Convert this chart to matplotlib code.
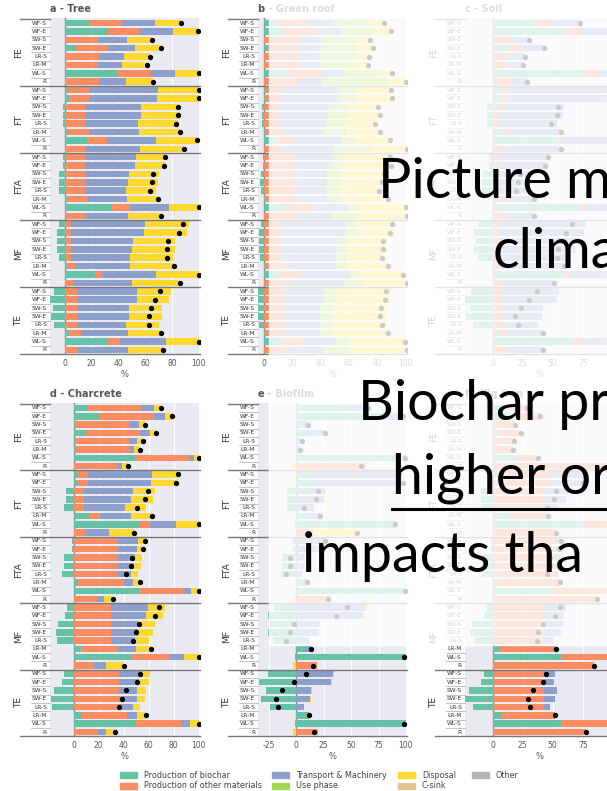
import matplotlib
matplotlib.use("Agg")
import matplotlib.pyplot as plt
import numpy as np
from matplotlib.patches import Rectangle

W, H = 607, 791

groups = ["FE", "FT", "FTA", "MF", "TE"]
rows = ["WF-S", "WF-E", "SW-S", "SW-E", "LR-S", "LR-M", "WL-S", "R"]

categories = ["Production of biochar", "Production of other materials",
              "Transport & Machinery", "Use phase", "Disposal", "C-sink", "Other"]
colors = ["#66c2a5", "#fc8d62", "#8da0cb", "#a6d854", "#ffd92f", "#e5c494", "#b3b3b3"]

# ---- a - Tree
tree_biochar = [18.5, 31.5, 1.2, 7.8, 0.5, 0, 40, 0,
                2.8, 3, -1.5, -1.5, -1.5, 2.8, 16.8, 0,
                -1, -1.5, -4.5, -4.5, -4, 2, 34.5, 0,
                -4.5, -6, -5.5, -6, -4.5, 1.8, 22.8, 0,
                -8, -11, -8.5, -10, -7.8, 3.5, 32.3, 0]
tree_materials = [24, 24, 24, 24, 25, 25, 24.5, 25.5,
                  15.3, 15, 15.5, 15.5, 15.5, 15.5, 15, 15.5,
                  15, 15, 15, 15, 15, 15.3, 14, 15.5,
                  5, 5, 5, 5, 5, 5.5, 4.8, 6.3,
                  9.3, 9.3, 9.3, 9.3, 9.3, 8.8, 8.8, 10]
tree_transport = [25, 25, 21, 21, 19, 18, 17.5, 20,
                  51.8, 51, 41.3, 41.3, 39.3, 37, 36.5, 40.5,
                  38.5, 37.5, 32.8, 32.3, 30.5, 29, 29.3, 31.5,
                  55, 54, 46, 45, 43.5, 41.3, 40.3, 43.8,
                  45, 44.3, 38.8, 38.8, 36.3, 34.8, 34.5, 37]
tree_disposal = [19, 18.8, 19, 19, 19, 18.5, 18.5, 20.5,
                 30.5, 31, 29.5, 29.3, 30, 30.8, 30.3, 33,
                 22.5, 22.8, 22.5, 22.3, 22.5, 23.3, 22.5, 25,
                 32.5, 32.5, 31.5, 32.5, 32, 33, 32.5, 36,
                 24.8, 24.5, 24.5, 24.5, 25, 25, 24.8, 26.5]

# ---- b - Green roof
roof_biochar = [8, 13.5, 0.5, 2.4, 0, 0, 17.3, 0,
                1, 1, -1, -1, -1, 1.7, 9.5, 0,
                -0.5, -0.5, -2, -2.4, -2, 1, 15.4, 0,
                -2, -3, -3, -3, -2.6, 1, 11.8, 0,
                -4, -4.5, -4, -4.5, -3, 1, 13.5, 0]
roof_materials = [24, 24, 24, 23, 24.6, 24.6, 24, 24.6,
                  12, 12, 11.8, 11.8, 11.8, 11.4, 11.8, 12.3,
                  22.5, 22.5, 22.5, 22.5, 22.5, 22.5, 21.8, 24.2,
                  13, 13, 13, 13, 13, 13.7, 14.2, 14.7,
                  14.7, 14.7, 14.7, 14.7, 14.7, 15, 14.2, 15.9]
roof_transport = [17.8, 17.3, 15.6, 15, 14.5, 15, 14.5, 16.8,
                  40, 40, 34, 33.6, 31.3, 28.9, 33.2, 37.4,
                  25.4, 25.4, 22.3, 22.3, 20.6, 21.3, 21.3, 23.7,
                  45, 44.3, 39, 38.9, 37.9, 36.3, 34.8, 41,
                  27.7, 27.7, 24.9, 24.9, 24.4, 23.7, 23.2, 26]
roof_use = [23.2, 23.5, 23.5, 25, 24.9, 22.7, 23.5, 47,
            12.5, 11.8, 13, 13, 14.2, 16, 10.4, 25.4,
            8.8, 8.3, 9, 9, 9.5, 9.5, 9.5, 17.8,
            6.9, 7.3, 7.6, 7.1, 7.1, 7.6, 7.1, 14.7,
            9, 8.5, 10, 9, 8.8, 9, 10, 18.5]
roof_disposal = [11.6, 11.6, 11.4, 11.8, 10.4, 11.1, 11.4, 12,
                 24.4, 25.6, 22.7, 24.9, 22.5, 23.7, 24.4, 25.6,
                 32.7, 34.3, 32.7, 32, 30.8, 33, 32, 35,
                 27.5, 27.7, 27.3, 28, 28, 28.7, 30.3, 30.3,
                 39, 39, 37.4, 37.8, 38.6, 38.9, 38.4, 40.3]

# ---- c - Soil
soil_biochar = [35.6, 61, 1.7, 14.4, 0, 0, 77, 0,
                7, 7, -5, -5, -5, 9.7, 53.6, 0,
                -2, -3, -8, -9, -9, 4.4, 72, 0,
                -11.7, -15.3, -13.9, -15.3, -12, 2, 58.3, 0,
                -18, -23, -19, -22, -16, 5.6, 66.7, 0]
soil_materials = [11.1, 11, 11.7, 11.1, 12.2, 11.7, 11.7, 15.3,
                  5, 4.5, 4.4, 4.4, 4.4, 4.2, 4.7, 7,
                  6.4, 6.4, 6.4, 6.4, 6.4, 6, 5.6, 10.5,
                  5.6, 5.6, 5.6, 5.6, 5.6, 5.6, 5, 8.3,
                  7, 7, 7, 7, 7, 7, 7.8, 12.5]
soil_transport = [25.6, 25, 17.2, 17.2, 15, 13.3, 12, 13.3,
                  86, 86, 55.3, 54, 49, 43, 40, 50,
                  41.4, 40, 24, 24, 22, 24, 23, 24,
                  72, 70.8, 66, 64, 60, 52, 38, 43,
                  48, 46.4, 35.3, 34, 30.5, 29, 25, 29]

# ---- d - Charcrete
char_biochar = [11.4, 20.7, 1.3, 10.1, 1, 1, 49, 0,
                3.5, 3.5, -6.4, -6, -7.4, 12.8, 52.7, 0,
                -1, -1.3, -8, -8, -9.6, 3.7, 51.9, 0,
                -5, -7, -12.5, -14, -13.3, 5.6, 46.3, 0,
                -7.5, -9.6, -15.7, -18, -17.3, 6.6, 49.5, 0]
char_materials = [43.6, 43.4, 43.6, 43, 43.4, 43, 43.6, 34.3,
                  8, 8, 8, 8, 8, 8, 8.2, 10.1,
                  35.1, 35.1, 35.1, 35.1, 35.1, 36.2, 35.4, 18.6,
                  29.8, 29.8, 29.8, 29.8, 29.8, 29.8, 30.3, 16.5,
                  36.2, 36.2, 36.2, 36.2, 36.2, 35.9, 36.2, 19.1]
char_transport = [9.6, 9.3, 7.4, 8, 5.9, 4.3, 3.5, 4,
                  51.3, 50, 39.6, 37.8, 33.2, 25.3, 21.3, 18.4,
                  16, 15.2, 14, 13, 11, 7.4, 6.4, 5.3,
                  29.8, 28.2, 21.8, 22, 19.4, 14.1, 11.4, 9.6,
                  17.8, 15.7, 14.6, 14.1, 11.2, 8.2, 7.7, 6.4]
char_disposal = [5.3, 5, 5, 4.8, 4.8, 4.8, 4.5, 5,
                 20.7, 20.7, 17.8, 17.5, 16.5, 16.8, 18.4, 20,
                 6.9, 6.6, 5.9, 5.9, 5, 5.9, 6.9, 7.2,
                 13.3, 13.8, 13.3, 12, 11.2, 12.2, 12.5, 13.8,
                 6.9, 8.5, 6.9, 6.6, 5.9, 6.9, 7.2, 7.7]

# ---- e - Biofilm
bio_biochar = [46, 85, 0, 12.7, 0, 0, 99, 0,
               12.7, 12.7, -8.5, -8.5, -8.5, 9.7, 90, 0,
               -3.5, -3, -13, -13, -14, 9.7, 99, 0,
               -20, -26, -24, -26, -21, 9, 99.7, 0,
               -26, -34.5, -27.5, -32, -24, 9.7, 99.7, 0]
bio_materials = [0, 0, 0, 0, 0, 0, 0, 64,
                 0, 0, 0, 0, 0, 0, 0, 15.8,
                 0, 0, 0, 0, 0, 0, 0, 31,
                 0, 0, 0, 0, 0, 0, 0, 18.8,
                 0, 0, 0, 0, 0, 0, 0, 19.4]
bio_transport = [19, 11.5, 11, 13.6, 5, 3.6, 0, 0,
                 81, 82, 26.4, 25, 15.8, 12, -1.5, 0,
                 28, 26, 7, 7, 5, 0, 0, 0,
                 64, 61, 21.8, 20.3, 12, 4.2, -1.5, 0,
                 33.3, 31.5, 13.6, 12.7, 6.7, 2, -1, 0]
bio_disposal = [0, 1, 0, 0, 0, 0, 0.5, -5,
                0, 2.5, 2, 1.5, 0, 0, 1.5, 39.4,
                1.5, 1, 0.5, 0.5, 0, 0, 0.5, -2,
                2, 1.5, 0, 0, 0, 0, 0, -3.5,
                1.2, 1.2, 1, 1, 0.6, 0, 0, -3.5]

# ---- f - Pig iron
pig_biochar = [10, 20, 1, 6, 0, 0, 21, 0,
               4, 4, -10, -10, -10, 14, 75, 0,
               -1, -1.5, -8, -8, -9, 3.6, 48.6, 0,
               -5, -7.5, -17, -19, -14.5, 5.6, 57, 0,
               -7.5, -9.7, -20, -23, -16.4, 7, 57, 0]
pig_materials = [17, 17, 17, 17, 17, 16.7, 16.7, 98,
                 43, 43, 43, 43, 43, 29, 30, 53,
                 52, 52, 52, 52, 52, 52, 55, 87,
                 43, 43, 43, 43, 43, 44.4, 45, 84.7,
                 43, 43, 43, 43, 43, 43, 43, 77.8]
pig_transport = [2, 2, 1, 1, 0.5, 0, 0, 0,
                 30, 28, 20, 18, 12, 2.8, 0, 0,
                 6, 5, 4, 3.5, 2.5, 0.5, 0, 0,
                 18, 16.7, 15.8, 13.9, 8.3, 2.8, 0, 0,
                 9.2, 8.3, 10.3, 9.2, 4.7, 2.2, 0, 0]

zero = [0] * 40

panels = [
    ("a - Tree", (50, 18, 200, 355), (-11, 101), [0, 20, 40, 60, 80, 100],
     [tree_biochar, tree_materials, tree_transport, zero, tree_disposal]),
    ("b - Green roof", (258, 18, 407, 355), (-4, 101), [0, 20, 40, 60, 80, 100],
     [roof_biochar, roof_materials, roof_transport, roof_use, roof_disposal]),
    ("c - Soil", (465, 18, 614, 355), (-23, 101), [0, 25, 50, 75],
     [soil_biochar, soil_materials, soil_transport, zero, zero]),
    ("d - Charcrete", (50, 403, 200, 737), (-19, 101), [0, 20, 40, 60, 80, 100],
     [char_biochar, char_materials, char_transport, zero, char_disposal]),
    ("e - Biofilm", (258, 403, 407, 737), (-35, 101), [-25, 0, 25, 50, 75, 100],
     [bio_biochar, bio_materials, bio_transport, zero, bio_disposal]),
    ("f - Pig iron", (465, 403, 614, 737), (-23, 101), [0, 25, 50, 75],
     [pig_biochar, pig_materials, pig_transport, zero, zero]),
]

fig = plt.figure(figsize=(W / 100, H / 100), dpi=100)

for title, (l, t, r, b), xlim, ticks, series in panels:
    ax = fig.add_axes([l / W, 1 - b / H, (r - l) / W, (b - t) / H])
    wpx = r - l
    ax.set_facecolor("#eaeaf2")
    y = np.arange(40)
    pos = np.zeros(40)
    neg = np.zeros(40)
    for vals, c in zip(series, colors):
        v = np.array(vals, dtype=float)
        left = np.where(v >= 0, pos, neg)
        ax.barh(y, v, left=left, height=0.78, color=c, zorder=2)
        pos += np.clip(v, 0, None)
        neg += np.clip(v, None, 0)
    net = pos + neg
    ax.plot(net, y, "o", color="black", ms=2.8, zorder=4)
    ax.axvline(0, color="#888888", lw=1, zorder=1.5)

    ax.set_xlim(*xlim)
    ax.set_ylim(39.6, -0.6)
    ax.set_xticks(ticks)
    ax.set_xticklabels([str(tk) for tk in ticks])
    ax.set_yticks([])
    ax.tick_params(axis="x", length=0, labelsize=5.5, labelcolor="#555555", pad=3)
    ax.grid(axis="x", color="white", lw=0.8)
    ax.set_axisbelow(True)
    for s in ax.spines.values():
        s.set_visible(False)
    ax.set_xlabel("%", fontsize=6, color="#555555", labelpad=1)
    ax.set_title(title, loc="left", fontsize=7, fontweight="bold", color="#555555", pad=4)

    tr = ax.get_yaxis_transform()
    for g, gname in enumerate(groups):
        ax.text(-31 / wpx, g * 8 + 3.5, gname, rotation=90, ha="center", va="center",
                fontsize=6.5, color="#333333", transform=tr, clip_on=False)
        for k, rname in enumerate(rows):
            i = g * 8 + k
            ax.text(-3 / wpx, i, rname, ha="right", va="center", fontsize=4.2,
                    color="#333333", transform=tr, clip_on=False)
            if k > 0:
                ax.plot([-19 / wpx, 0], [i - 0.5, i - 0.5], color="#aaaaaa", lw=0.5,
                        transform=tr, clip_on=False)
        yy = g * 8 - 0.5
        if g == 0:
            ax.plot([-30 / wpx, 0], [yy, yy], color="#777777", lw=1, transform=tr, clip_on=False)
        else:
            ax.plot([-30 / wpx, 1], [yy, yy], color="#777777", lw=1, transform=tr, clip_on=False)
    ax.plot([-30 / wpx, 1], [39.5, 39.5], color="#777777", lw=1, transform=tr, clip_on=False)

# legend
leg_cols = [(120, [0, 1]), (272, [2, 3]), (398, [4, 5]), (472, [6])]
for x0, idxs in leg_cols:
    for rowi, ci in enumerate(idxs):
        yc = 775 + rowi * 11
        fig.patches.append(Rectangle((x0 / W, 1 - (yc + 3) / H), 17 / W, 6 / H,
                                     transform=fig.transFigure, color=colors[ci]))
        fig.text((x0 + 24) / W, 1 - yc / H, categories[ci], fontsize=5.8,
                 color="#444444", va="center", ha="left")

# slide overlay
fig.patches.append(Rectangle((269 / W, 1 - 645 / H), (W - 269) / W, 645 / H,
                             transform=fig.transFigure, color="white", alpha=0.8, zorder=5))

slide_lines = [("Picture m", 378, 198), ("clima", 493, 268),
               ("Biochar pr", 358, 420), ("higher or", 392, 493),
               ("impacts tha", 302, 572)]
for txt, x0, yb in slide_lines:
    fig.text(x0 / W, 1 - yb / H, txt, fontsize=40, family="Lato", color="black",
             ha="left", va="baseline", zorder=10)
fig.lines.append(plt.Line2D([392 / W, 1], [1 - 509 / H, 1 - 509 / H], color="black",
                            lw=2.2, transform=fig.transFigure, zorder=10))

fig.savefig("out.png", dpi=100)
